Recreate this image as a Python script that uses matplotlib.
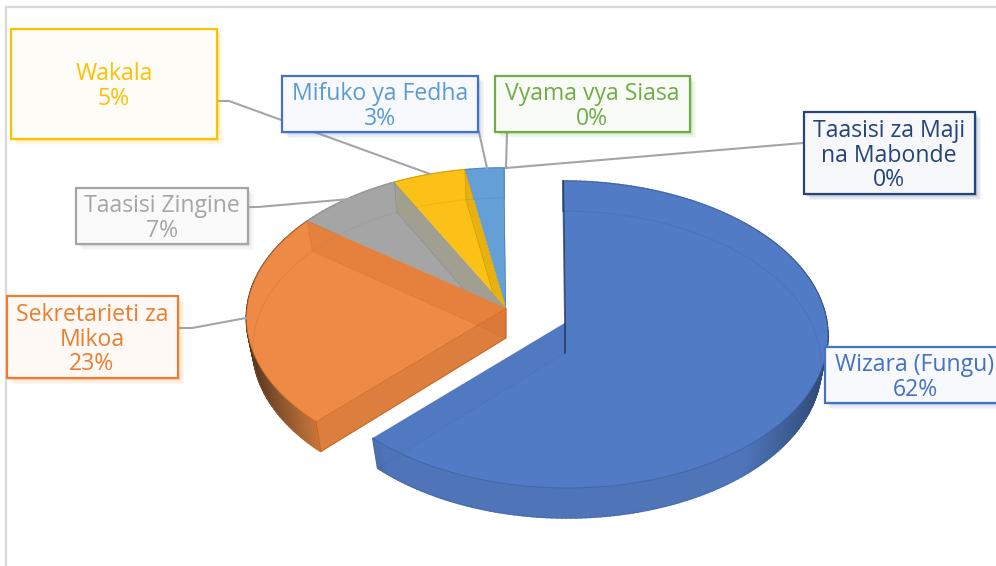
#!/usr/bin/env python3

import numpy as np
import matplotlib
matplotlib.use('Agg')
import matplotlib.pyplot as plt
from matplotlib.colors import to_rgb
from matplotlib.patches import Polygon, Rectangle

# slices, clockwise from 12 o'clock
names = ['Wizara (Fungu)', 'Sekretarieti za\nMikoa', 'Taasisi Zingine', 'Wakala',
         'Mifuko ya Fedha', 'Vyama vya Siasa', 'Taasisi za Maji\nna Mabonde']
values = [62.4, 23.0, 7.2, 4.9, 2.6, 0.0, 0.0]

top_colors = ['#527BC6', '#ED8A45', '#A5A5A5', '#FBC116', '#659FD7', '#70AD47', '#264478']
wall_colors = ['#4F74B8', '#DC7F3E', '#A19F90', '#E8B010', '#5B94CC', '#70AD47', '#264478']
dark_colors = ['#2C4670', '#4A3320', '#666666', '#7F6000', '#2E5A85', '#3F6626', '#14264A']
line_colors = ['#3A5C9C', '#C8661F', '#8C8C8C', '#C99A00', '#4A82BA', '#70AD47', '#264478']
edge_colors = ['#4472C4', '#ED7D31', '#A5A5A5', '#FFC000', '#4472C4', '#70AD47', '#264478']
text_colors = ['#4472C4', '#ED7D31', '#A5A5A5', '#FFC000', '#5B9BD5', '#70AD47', '#264478']
face_colors = ['#F7F9FC', '#FEF9F5', '#FAFAFA', '#FEFCF7', '#F7F9FC', '#F8FBF6', '#F6F8FB']

# label boxes in pixels: left, top, right, bottom
boxes = [(825, 347, 1010, 403), (7, 296, 178, 378), (76, 188, 248, 244), (11, 29, 217, 139),
         (282, 76, 478, 132), (495, 76, 690, 132), (804, 112, 975, 194)]
text_x = [915, 92, 162, 114, 380, 592, 889]
leaders = [None,
           [(178, 328), (192, 328), (246, 318)],
           [(249, 207), (258, 207), (350, 199)],
           [(218, 101), (229, 101), (430, 174)],
           [(479, 132), (487, 168)],
           [(507, 132), (506, 168)],
           [(803, 143), (506, 168)]]

DEPTH = 30
PERSP = 0.0748
FONT = 'Open Sans'


def project(theta, cx, cy, a, b, low=False):
    X, Y = np.sin(theta), np.cos(theta)
    w = 1 + PERSP * Y
    f = 0.975 if low else 1.0
    x = cx + (a * f * X - 2 * Y) / w
    y = cy - b * Y / w + (DEPTH if low else 0)
    return x, y


def mix(c1, c2, t):
    c1, c2 = np.array(to_rgb(c1)), np.array(to_rgb(c2))
    return tuple(c1 + (c2 - c1) * t)


def draw_slice(ax, i, t0, t1, pie):
    cx, cy, a, b = pie
    th = np.linspace(t0, t1, max(int(np.degrees(t1 - t0)), 2))
    xt, yt = project(th, *pie)
    xb, yb = project(th, *pie, low=True)

    # outer wall first, shaded towards the left and right extremes
    for j in range(len(th) - 1):
        d = max(0.0, abs(np.sin(th[j])) - 0.65) / 0.35
        col = mix(wall_colors[i], dark_colors[i], min(d, 1.0))
        ax.add_patch(Polygon([(xt[j], yt[j]), (xt[j + 1], yt[j + 1]), (xb[j + 1], yb[j + 1]), (xb[j], yb[j])],
                             fc=col, ec=col, lw=1.2, zorder=2))

    # wall of the cut that faces the viewer
    if i == 1:
        ax.add_patch(Polygon([(cx, cy), (xt[0], yt[0]), (xb[0], yb[0]), (cx, cy + DEPTH)],
                             fc=wall_colors[i], ec=line_colors[i], lw=0.8, zorder=2))

    top = Polygon(np.vstack([[cx, cy], np.c_[xt, yt]]), fc=top_colors[i], ec='none', zorder=3)
    ax.add_patch(top)

    # far cut seen through the top
    wall = Polygon([(cx, cy), (xt[-1], yt[-1]), (xb[-1], yb[-1]), (cx, cy + DEPTH)],
                   fc=wall_colors[i] if i != 1 else '#D8702F', alpha=0.35 if i == 1 else 0.9 if i > 1 else 0.25,
                   ec=line_colors[i], lw=0.5, zorder=4)
    ax.add_patch(wall)
    if i > 1:
        wall.set_clip_path(top)

    # bottom rim seen through the top
    ax.plot(xb, yb, color=line_colors[i], lw=0.8, alpha=0.25, zorder=4)
    ax.plot(xt, yt, color=line_colors[i], lw=0.7, alpha=0.6, zorder=4)


fig = plt.figure(figsize=(9.96, 5.66), dpi=100, facecolor='white')
ax = fig.add_axes([0, 0, 1, 1])
ax.set_xlim(0, 996)
ax.set_ylim(566, 0)
ax.axis('off')

# frame of the pasted chart
ax.plot([6, 6, 996], [566, 7, 7], color='#D9D9D9', lw=1.6, zorder=1)

edges = np.cumsum([0] + values) / sum(values) * 2 * np.pi
back_pie = (506, 308, 259, 150.5)
front_pie = (565, 323, 262, 152.6)

for i in range(1, 5):
    draw_slice(ax, i, edges[i], edges[i + 1], back_pie)
draw_slice(ax, 0, edges[0], edges[1], front_pie)

# the wizara cut at 12 o'clock is seen edge on
x0, y0 = project(0.0, *front_pie)
ax.plot([x0, front_pie[0], front_pie[0]], [y0, front_pie[1], front_pie[1] + DEPTH],
        color='#1F2F50', lw=1.3, alpha=0.75, zorder=5)

for pts in leaders:
    if pts:
        px, py = zip(*pts)
        ax.plot(px, py, color='#A5A5A5', lw=1.5, zorder=6)

for i, name in enumerate(names):
    l, t, r, b = boxes[i]
    for s, al in zip([6, 4.5, 3, 1.5], [0.05, 0.07, 0.09, 0.12]):
        ax.add_patch(Rectangle((l + s, t + s), r - l, b - t, fc=edge_colors[i], ec='none', alpha=al, zorder=7))
    ax.add_patch(Rectangle((l, t), r - l, b - t, fc=face_colors[i], ec=edge_colors[i], lw=1.6, zorder=8))
    label = f'{name}\n{values[i]:.0f}%'
    ax.text(text_x[i], (t + b) / 2 + 2.5, label, color=text_colors[i], ha='center', va='center',
            fontsize=16.6, family=FONT, linespacing=1.04, zorder=9)

fig.savefig('out.png', dpi=100)
